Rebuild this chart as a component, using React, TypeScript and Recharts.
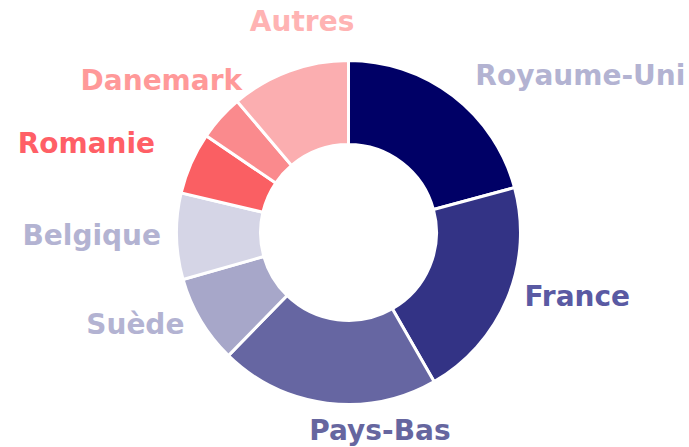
import { PieChart, Pie, Cell } from "recharts";

// Share of total (clockwise from 12 o'clock)
const countries = ["Royaume-Uni", "France", "Pays-Bas", "Suède", "Belgique", "Romanie", "Danemark", "Autres"];
const shares = [20.8, 20.9, 20.6, 8.3, 8.1, 5.8, 4.3, 11.2];

const sliceColors = ["#000066", "#333385", "#6666a2", "#a7a7c9", "#d5d5e6", "#fa5f63", "#fa8a8d", "#fbaeb0"];
const labelColors = ["#b3b3d2", "#5a5aa3", "#66669f", "#b3b3d2", "#b3b3d2", "#ff5f66", "#ff9999", "#ffb3b3"];

// label placement tweaks relative to the mid-angle point just outside the ring
const labelLayout = [
  { anchor: "start", dx: 15, dy: -1 },
  { anchor: "start", dx: 6, dy: 3 },
  { anchor: "middle", dx: 54.5, dy: 24.5 },
  { anchor: "end", dx: -6, dy: 7.5 },
  { anchor: "end", dx: -3.5, dy: 8 },
  { anchor: "end", dx: -25, dy: -5.5 },
  { anchor: "end", dx: 30.5, dy: -19.3 },
  { anchor: "middle", dx: 17, dy: -29 },
];

const data = countries.map((name, i) => ({ name, value: shares[i] }));

const RAD = Math.PI / 180;

function renderLabel(props: any) {
  const { cx, cy, midAngle, outerRadius, index, name } = props;
  const r = outerRadius + 12;
  const x = cx + r * Math.cos(-midAngle * RAD);
  const y = cy + r * Math.sin(-midAngle * RAD);
  const l = labelLayout[index];
  return (
    <text
      x={x + l.dx}
      y={y + l.dy}
      textAnchor={l.anchor}
      fill={labelColors[index]}
      fontFamily="DejaVu Sans, Verdana, sans-serif"
      fontWeight="bold"
      fontSize={28}
    >
      {name}
    </text>
  );
}

export default function App() {
  return (
    <div style={{ position: "absolute", left: 0, top: 0, background: "#fff" }}>
      <PieChart width={689} height={447} margin={{ top: 0, right: 0, bottom: 0, left: 0 }}>
        <Pie
          data={data}
          dataKey="value"
          nameKey="name"
          cx={348.5}
          cy={232.5}
          innerRadius={88}
          outerRadius={172}
          startAngle={90}
          endAngle={-270}
          stroke="#ffffff"
          strokeWidth={3}
          label={renderLabel}
          labelLine={false}
          isAnimationActive={false}
        >
          {data.map((d, i) => (
            <Cell key={d.name} fill={sliceColors[i]} />
          ))}
        </Pie>
      </PieChart>
    </div>
  );
}
